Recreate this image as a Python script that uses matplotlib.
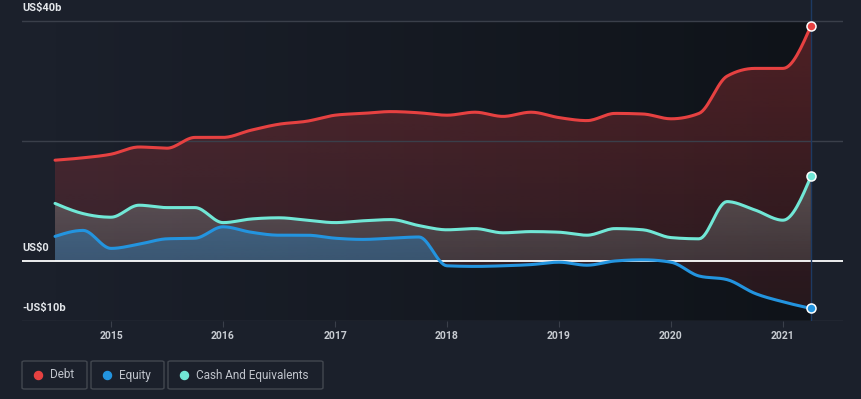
import numpy as np
import matplotlib.pyplot as plt
from matplotlib.colors import to_rgb
from matplotlib.patches import FancyBboxPatch

plt.rcParams['font.family'] = ['Roboto', 'DejaVu Sans']

# quarterly reporting dates (decimal years)
dates = [2014.5, 2014.75, 2015.0, 2015.25, 2015.5, 2015.75, 2016.0, 2016.25,
         2016.5, 2016.75, 2017.0, 2017.25, 2017.5, 2017.75, 2018.0, 2018.25,
         2018.5, 2018.75, 2019.0, 2019.25, 2019.5, 2019.75, 2020.0, 2020.25,
         2020.5, 2020.75, 2021.0, 2021.25]

# values in US$ billions
debt = [16.8, 17.2, 17.8, 19.0, 18.8, 20.6, 20.6, 21.8, 22.8, 23.3, 24.3, 24.6,
        24.9, 24.7, 24.3, 24.8, 24.1, 24.8, 23.9, 23.4, 24.6, 24.5, 23.7, 24.6,
        30.8, 32.1, 32.1, 39.2]
equity = [4.1, 5.1, 2.1, 2.8, 3.7, 3.8, 5.7, 4.8, 4.3, 4.3, 3.8, 3.6,
          3.8, 4.0, -0.8, -0.9, -0.8, -0.6, -0.2, -0.7, 0.0, 0.2, -0.2, -2.5,
          -3.1, -5.4, -6.8, -7.9]
cash = [9.6, 7.9, 7.3, 9.3, 8.9, 8.9, 6.4, 7.0, 7.2, 6.8, 6.4, 6.7,
        6.9, 5.9, 5.2, 5.4, 4.7, 4.9, 4.8, 4.3, 5.4, 5.2, 3.9, 3.7,
        9.9, 8.5, 6.8, 14.1]

year_ticks = [2015, 2016, 2017, 2018, 2019, 2020, 2021]
y_labels = {40: 'US$40b', 0: 'US$0', -10: '-US$10b'}

C_DEBT = '#e64141'
C_EQ = '#2394df'
C_CASH = '#71e7d6'
BG = '#1b202b'
GRID = '#3a3f4a'


def monotone(x, y, n=16):
    # monotone cubic curve, like d3 curveMonotoneX
    x = np.asarray(x, float)
    y = np.asarray(y, float)
    h = np.diff(x)
    d = np.diff(y) / h
    m = np.zeros_like(y)
    for i in range(1, len(y) - 1):
        if d[i - 1] * d[i] > 0:
            p = (d[i - 1] * h[i] + d[i] * h[i - 1]) / (h[i - 1] + h[i])
            m[i] = np.sign(d[i - 1]) * min(2 * abs(d[i - 1]), 2 * abs(d[i]), abs(p))
    m[0] = (3 * d[0] - m[1]) / 2
    m[-1] = (3 * d[-1] - m[-2]) / 2
    xs, ys = [], []
    t = np.linspace(0, 1, n, endpoint=False)
    for i in range(len(x) - 1):
        h00 = 2 * t**3 - 3 * t**2 + 1
        h10 = t**3 - 2 * t**2 + t
        h01 = -2 * t**3 + 3 * t**2
        h11 = t**3 - t**2
        xs.append(x[i] + t * h[i])
        ys.append(h00 * y[i] + h10 * h[i] * m[i] + h01 * y[i + 1] + h11 * h[i] * m[i + 1])
    xs.append([x[-1]])
    ys.append([y[-1]])
    return np.concatenate(xs), np.concatenate(ys)


def grad_fill(ax, xs, top, bot, color, a_top, a_bot, z):
    poly = ax.fill_between(xs, top, bot, color='none', lw=0)
    rgba = np.zeros((256, 1, 4))
    rgba[..., :3] = to_rgb(color)
    rgba[:, 0, 3] = np.linspace(a_bot, a_top, 256)
    im = ax.imshow(rgba, extent=[xs[0], xs[-1], -10, 40], origin='lower',
                   aspect='auto', zorder=z, interpolation='bilinear')
    im.set_clip_path(poly.get_paths()[0], ax.transData)


fig = plt.figure(figsize=(8.61, 3.99), dpi=100, facecolor=BG)
ax = fig.add_axes([22 / 861, 1 - 321 / 399, 821 / 861, 321 / 399])
ax.set_facecolor(BG)

# darker backdrop over the data span
bg = np.zeros((1, 256, 3))
c0, c1 = np.array(to_rgb('#1b202b')), np.array(to_rgb('#0f1319'))
bg[0] = c0 + (c1 - c0) * np.linspace(0, 1, 256)[:, None]
ax.imshow(bg, extent=[dates[0], dates[-1], -10, 40], aspect='auto', zorder=0,
          interpolation='bilinear')

xd, yd = monotone(dates, debt)
_, ye = monotone(dates, equity)
_, yc = monotone(dates, cash)

grad_fill(ax, xd, yd, np.minimum(ye, 0), C_DEBT, 0.30, 0.10, 1)
grad_fill(ax, xd, yc, 0, '#b0d6d0', 0.50, 0.06, 2)
grad_fill(ax, xd, np.maximum(ye, 0), 0, C_EQ, 0.55, 0.25, 3)

for g in [40, 20, -10]:
    ax.axhline(g, color=GRID, lw=1, zorder=1.5)
ax.axhline(0, color='white', lw=1.3, zorder=4)
ax.axvline(dates[-1], color='#1d3a63', lw=1, zorder=4)

ax.plot(xd, yd, color=C_DEBT, lw=2.2, zorder=5, solid_capstyle='round')
ax.plot(xd, yc, color=C_CASH, lw=2.2, zorder=5, solid_capstyle='round')
ax.plot(xd, ye, color=C_EQ, lw=2.2, zorder=5, solid_capstyle='round')
for ser, col in [(debt, C_DEBT), (cash, C_CASH), (equity, C_EQ)]:
    ax.plot(dates[-1], ser[-1], 'o', ms=6.5, color=col, mec='white', mew=1.1, zorder=6)

for v, lab in y_labels.items():
    ax.annotate(lab, (2014.205, v), xytext=(0, 5.5), textcoords='offset points',
                ha='left', va='bottom', color='#e3e6ea', fontsize=8, fontweight='bold')

ax.set_xlim(2014.205, 2021.536)
ax.set_ylim(-10, 43.5)
ax.set_yticks([])
ax.set_xticks(year_ticks)
ax.set_xticklabels([str(y) for y in year_ticks], fontsize=7.5, fontweight='bold', color='#c8ccd2')
ax.tick_params(axis='x', length=4, color=GRID, pad=3)
for s in ax.spines.values():
    s.set_visible(False)

# legend chips
items = [('Debt', C_DEBT, 22, 87), ('Equity', C_EQ, 91, 164),
         ('Cash And Equivalents', C_CASH, 168, 323)]
for lab, col, x0, x1 in items:
    fig.patches.append(FancyBboxPatch((x0 / 861, (399 - 389) / 399), (x1 - x0) / 861, 28 / 399,
                                      boxstyle='round,pad=0,rounding_size=0.003',
                                      transform=fig.transFigure, facecolor=BG,
                                      edgecolor='#42474f', lw=1))
    fig.add_artist(plt.Line2D([(x0 + 16) / 861], [(399 - 375) / 399], marker='o', ms=5.8,
                              color=col, mec=col, transform=fig.transFigure))
    fig.text((x0 + 28) / 861, (399 - 375) / 399, lab, color='#c0c4cc', fontsize=8.5,
             va='center', ha='left')

fig.savefig('out.png', dpi=100, facecolor=BG)
